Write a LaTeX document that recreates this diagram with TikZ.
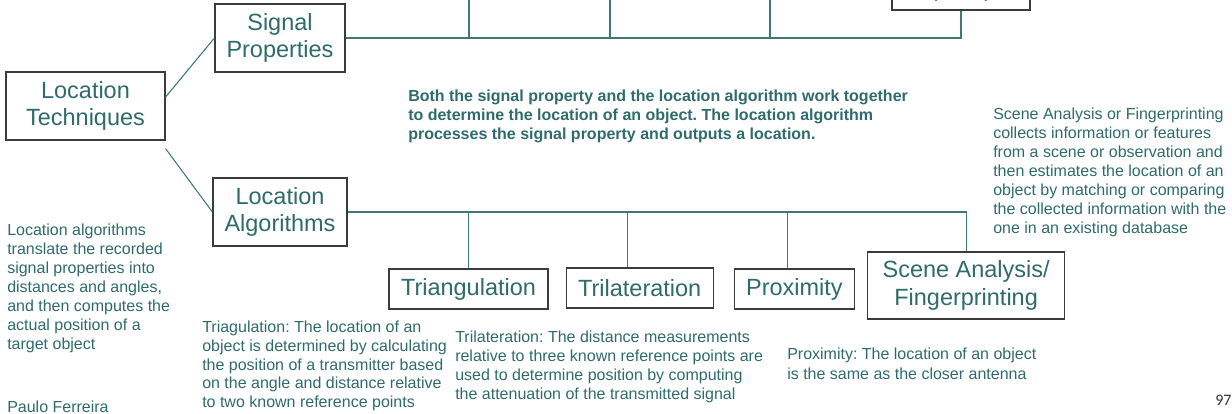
\documentclass[tikz,border=0pt]{standalone}
\usepackage{fontspec}
\setmainfont{Liberation Sans}
\newfontfamily\pagefont{Carlito}
\usetikzlibrary{positioning}
\definecolor{tealtxt}{RGB}{47,107,107}
\definecolor{tealline}{RGB}{62,120,120}
\definecolor{boxline}{RGB}{60,60,60}
\frenchspacing

\begin{document}
\begin{tikzpicture}[
	  x=0.75pt, y=-0.75pt,
	  %style for connectors
	  conn/.style={draw=tealline, line width=0.8pt},
	  %style for the boxes
	  bx/.style={rectangle, draw=boxline, line width=0.9pt, fill=white, text=tealtxt, align=center, inner sep=2pt, font=\fontsize{17.6}{20.5}\selectfont},
	  %style for the notes
	  nt/.style={anchor=north west, inner sep=0pt, align=left, text=tealtxt, font=\fontsize{12}{14.25}\selectfont}]

      \useasboundingbox (0,0) rectangle (1232,414);
      \clip (0,0) rectangle (1232,414);

      %nodes
      \node[bx, minimum width=119.25pt, minimum height=51pt] (tech) at (85.5,106) {Location\\Techniques};
      \node[bx, minimum width=97.5pt, minimum height=51pt] (sigprop) at (280,38) {Signal\\Properties};
      \node[bx, minimum width=100.5pt, minimum height=51pt] (localg) at (280,212) {Location\\Algorithms};
      \node[bx, minimum width=103.5pt, minimum height=51pt] (signext) at (961,-24) {};
      \node[anchor=base, inner sep=0pt, text=tealtxt, font=\fontsize{17.6}{20.5}\selectfont] (signextlbl) at (961,-3) {(\hspace{35pt})};

      \node[bx, minimum width=119.25pt, minimum height=30pt] (triang) at (468.5,289) {Triangulation};
      \node[bx, minimum width=110.25pt, minimum height=30pt, right=12.75pt of triang, yshift=0.75pt] (trilat) {Trilateration};
      \node[bx, minimum width=90pt, minimum height=30pt, right=15pt of trilat, yshift=-0.75pt] (prox) {Proximity};
      \node[bx, minimum width=147.75pt, minimum height=50.25pt, right=9pt of prox, yshift=2.6pt] (scene) {Scene Analysis/\\Fingerprinting};

      %notes
      \node[nt, font=\fontsize{12}{14.25}\selectfont\bfseries] (note) at (408,90) {Both the signal property and the location algorithm work together\\to determine the location of an object. The location algorithm\\processes the signal property and outputs a location.};
      \node[nt] (scenenote) at (993,108) {Scene Analysis or Fingerprinting\\collects information or features\\from a scene or observation and\\then estimates the location of an\\object by matching or comparing\\the collected information with the\\one in an existing database};
      \node[nt] (algnote) at (7,224) {Location algorithms\\translate the recorded\\signal properties into\\distances and angles,\\and then computes the\\actual position of a\\target object};
      \node[nt, font=\fontsize{12}{14}\selectfont] (triangnote) at (202,321) {Triagulation: The location of an\\object is determined by calculating\\the position of a transmitter based\\on the angle and distance relative\\to two known reference points};
      \node[nt] (trilatnote) at (455,331) {Trilateration: The distance measurements\\relative to three known reference points are\\used to determine position by computing\\the attenuation of the transmitted signal};
      \node[nt, font=\fontsize{12}{15}\selectfont] (proxnote) at (787,348) {Proximity: The location of an object\\is the same as the closer antenna};
      \node[nt] (author) at (7,401) {Paulo Ferreira};
      \node[nt, text=black!80, font=\pagefont\fontsize{12}{14}\selectfont] (pagenum) at (1215,395) {97};

      %edges
      \coordinate (top1) at (469,-5);
      \coordinate (top2) at (610,-5);
      \coordinate (top3) at (770,-5);
      \coordinate (trilattop) at ([xshift=-9.4pt]trilat.north);
      \coordinate (proxtop) at ([xshift=-5.25pt]prox.north);
      \draw[conn] ([yshift=6.75pt]tech.east) -- (sigprop.west);
      \draw[conn] ([yshift=-6pt]tech.south east) -- (localg.west);
      \draw[conn] (sigprop.east) -| (signext.south);
      \foreach \c in {top1,top2,top3}
        \draw[conn] (sigprop.east -| \c) -- (\c);
      \draw[conn] (localg.east) -| (scene.north);
      \draw[conn] (triang.north) -- (triang.north |- localg.east);
      \draw[conn] (trilattop) -- (trilattop |- localg.east);
      \draw[conn] (proxtop) -- (proxtop |- localg.east);
\end{tikzpicture}
\end{document}
